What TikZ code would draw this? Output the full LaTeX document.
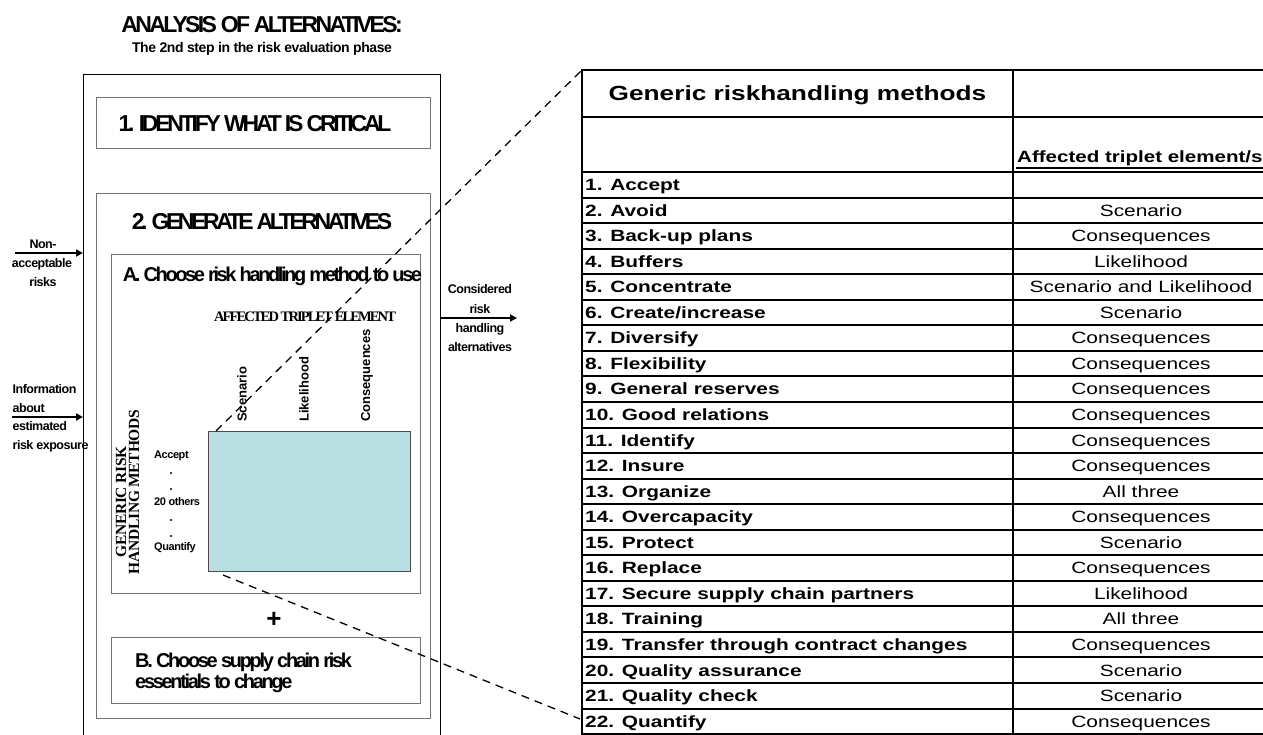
\documentclass[tikz,border=0pt]{standalone}
\usepackage{fontspec}
\usepackage{graphicx}
\setmainfont{Liberation Sans}
\newfontfamily\serifbf{Liberation Serif}
\usetikzlibrary{arrows.meta}
\definecolor{matblue}{RGB}{185,223,227}
\definecolor{boxgray}{RGB}{115,115,115}
\newcommand{\fs}[3]{\fontsize{#1}{#2}\selectfont\bfseries\addfontfeature{LetterSpace=#3}}
\begin{document}
\begin{tikzpicture}[x=1pt,y=-1pt,
  box/.style={draw=boxgray,line width=1.2pt,anchor=north west,inner sep=0pt},
  arr/.style={line width=2pt,-{Triangle[length=7pt,width=7pt]}},
  dsh/.style={line width=1.3pt,dash pattern=on 8pt off 6pt},
  tline/.style={line width=2pt},
  lbl/.style={inner sep=0pt,font={\fs{12.5}{15}{-4}}},
  small/.style={inner sep=0pt,font={\fs{11}{13}{-4}}},
  cell/.style={inner sep=0pt,font=\fontsize{16.3}{18}\selectfont},
  rot/.style={rotate=90,anchor=west,inner sep=0pt,font=\fontsize{13}{15}\selectfont\bfseries},
  gen/.style={rotate=90,inner sep=0pt,font={\serifbf\fontsize{15.5}{17}\selectfont\bfseries\addfontfeature{LetterSpace=-2}}}
]
\useasboundingbox (0,0) rectangle (1263,735);
\clip (0,0) rectangle (1263,735);

% ---------- left diagram ----------
\node[anchor=base,inner sep=0pt,font={\fs{23}{26}{-11.5}}] (title) at (262,33) {ANALYSIS OF ALTERNATIVES:};
\node[anchor=base,inner sep=0pt,font={\fs{14}{16}{-3}}] (sub) at (262,53) {The 2nd step in the risk evaluation phase};

\draw[line width=1pt] (83,745) -- (83,75) -- (440,75) -- (440,745);
\coordinate (oL1) at (83,253);
\coordinate (oL2) at (83,417);
\coordinate (oR) at (440,318);

\node[box,minimum width=334pt,minimum height=51pt] (b1) at (96,97) {};
\node[anchor=base,inner sep=0pt,font={\fs{23}{26}{-14}}] (t1) at (255,132) {1. IDENTIFY WHAT IS CRITICAL};

\node[box,minimum width=334pt,minimum height=525pt] (b2) at (96,193) {};
\node[anchor=base,inner sep=0pt,font={\fs{23}{26}{-14.8}}] (t2) at (262,230) {2. GENERATE ALTERNATIVES};

\node[box,minimum width=309pt,minimum height=339pt] (bA) at (111,254) {};
\node[anchor=base,inner sep=0pt,font={\fs{20}{22}{-12}}] (tA) at (272.5,282) {A. Choose risk handling method to use};

\node[anchor=base,inner sep=0pt,font={\serifbf\fontsize{14.5}{16}\selectfont\bfseries\addfontfeature{LetterSpace=-13}}] (ate) at (305,321) {AFFECTED TRIPLET ELEMENT};

\node[rot] (sc) at (242,422) {Scenario};
\node[rot] (li) at (304,422) {Likelihood};
\node[rot] (co) at (367,422) {Consequences};

\node[gen] (g1) at (121,502) {GENERIC RISK};
\node[gen] (g2) at (134,492) {HANDLING METHODS};

\node[small,anchor=west] (acc) at (154,456) {Accept};
\node[small,anchor=west] (oth) at (154,502) {20 others};
\node[small,anchor=west] (qua) at (154,548) {Quantify};
\fill (171,473) circle (1.2pt);
\fill (171,489) circle (1.2pt);
\fill (171,520) circle (1.2pt);
\fill (171,536) circle (1.2pt);

\node[draw=black!70,line width=1pt,fill=matblue,anchor=north west,minimum width=202pt,minimum height=140pt,inner sep=0pt] (mat) at (208,431) {};

\node[inner sep=0pt,font=\fontsize{26}{26}\selectfont\bfseries] (plus) at (274,620) {+};

\node[box,minimum width=309pt,minimum height=66pt] (bB) at (111,637) {};
\node[anchor=base west,inner sep=0pt,font={\fs{20}{22}{-11.6}}] (tB1) at (135,667) {B. Choose supply chain risk};
\node[anchor=base west,inner sep=0pt,font={\fs{20}{22}{-11.6}}] (tB2) at (135,688) {essentials to change};

% side labels and arrows
\node[lbl,anchor=base] (n1) at (43,249) {Non-};
\node[lbl,anchor=base] (n2) at (42,268) {acceptable};
\node[lbl,anchor=base] (n3) at (43,287) {risks};
\coordinate (inA) at (15,253);
\draw[arr] (inA) -- (oL1);

\node[lbl,anchor=base west] (i1) at (12.5,393) {Information};
\node[lbl,anchor=base west] (i2) at (12.5,412) {about};
\node[lbl,anchor=base west] (i3) at (12.5,430) {estimated};
\node[lbl,anchor=base west] (i4) at (12.5,449) {risk exposure};
\coordinate (inB) at (12,417);
\draw[arr] (inB) -- (oL2);

\node[lbl,anchor=base] (c1) at (480,294) {Considered};
\node[lbl,anchor=base] (c2) at (480,313) {risk};
\node[lbl,anchor=base] (c3) at (480,332) {handling};
\node[lbl,anchor=base] (c4) at (480,351) {alternatives};
\coordinate (outC) at (517,318);
\draw[arr] (oR) -- (outC);

% ---------- table ----------
\draw[tline] (581,70) -- (1272,70);
\draw[tline] (581,117) -- (1272,117);
\foreach \i in {0,...,22} \draw[tline] (581,{round(172+25.55*\i)}) -- (1272,{round(172+25.55*\i)});
\draw[tline] (582,69) -- (582,735);
\draw[tline] (1013,69) -- (1013,735);

\node[anchor=base,inner sep=0pt,font=\fontsize{20.5}{22}\selectfont\bfseries] (h1) at (797.5,101) {\scalebox{1.28}[1]{Generic riskhandling methods}};
\node[cell,anchor=base west] (h2) at (1017,163) {\scalebox{1.26}[1]{\bfseries Affected triplet element/s}};
\draw[line width=2pt] (1016,168) -- (1272,168);

\foreach \i/\m/\e in {1/{1. Accept}/{},2/{2. Avoid}/{Scenario},3/{3. Back-up plans}/{Consequences},
 4/{4. Buffers}/{Likelihood},5/{5. Concentrate}/{Scenario and Likelihood},6/{6. Create/increase}/{Scenario},
 7/{7. Diversify}/{Consequences},8/{8. Flexibility}/{Consequences},9/{9. General reserves}/{Consequences},
 10/{10. Good relations}/{Consequences},11/{11. Identify}/{Consequences},12/{12. Insure}/{Consequences},
 13/{13. Organize}/{All three},14/{14. Overcapacity}/{Consequences},15/{15. Protect}/{Scenario},
 16/{16. Replace}/{Consequences},17/{17. Secure supply chain partners}/{Likelihood},18/{18. Training}/{All three},
 19/{19. Transfer through contract changes}/{Consequences},20/{20. Quality assurance}/{Scenario},
 21/{21. Quality check}/{Scenario},22/{22. Quantify}/{Consequences}}{
  \node[cell,anchor=base west] (m\i) at (585,{172+25.55*(\i-0.5)+5.8}) {\scalebox{1.28}[1]{\bfseries\m}};
  \node[cell,anchor=base] (e\i) at (1141,{172+25.55*(\i-0.5)+5.8}) {\scalebox{1.28}[1]{\e}};
}

% ---------- zoom connectors ----------
\coordinate (tabTL) at (582,70);
\coordinate (r22) at (580,719);
\draw[dsh] ([xshift=8pt]mat.north west) -- (tabTL);
\draw[dsh] ([xshift=15pt,yshift=-3pt]mat.south west) -- (r22);
\end{tikzpicture}
\end{document}
